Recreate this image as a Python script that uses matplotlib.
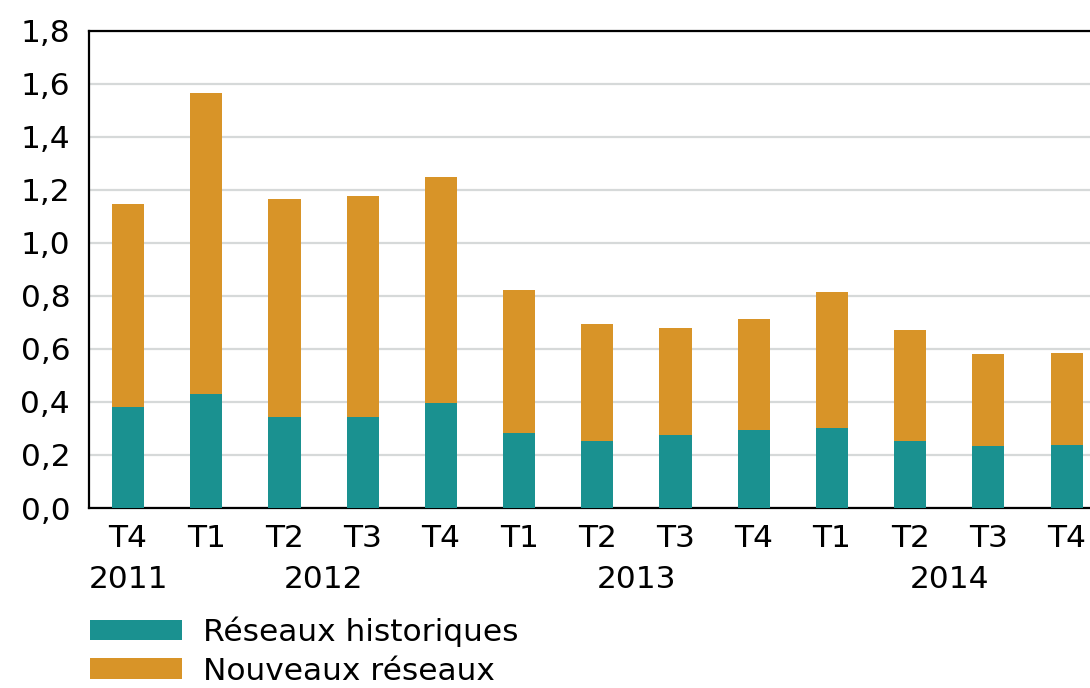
import matplotlib.pyplot as plt
import numpy as np

plt.rcParams['font.family'] = ['DejaVu Sans']

# data
trimestres = ["T4", "T1", "T2", "T3", "T4", "T1", "T2", "T3", "T4", "T1", "T2", "T3", "T4"]
annees = ["2011", "2012", "2013", "2014"]
annee_pos = [0, 2.5, 6.5, 10.5]   # centre of each year's quarters
historiques = [0.380, 0.430, 0.345, 0.342, 0.397, 0.282, 0.254, 0.277, 0.293, 0.301, 0.254, 0.233, 0.238]
nouveaux = [0.766, 1.135, 0.820, 0.834, 0.850, 0.542, 0.439, 0.400, 0.418, 0.512, 0.419, 0.346, 0.347]

teal = "#1a9190"
orange = "#d89428"
fs = 22.5

fig = plt.figure(figsize=(10.9, 6.88), dpi=100)
ax = fig.add_axes([89 / 1090, 180 / 688, 1 - 89 / 1090, (508 - 30.7) / 688])

x = np.arange(len(trimestres))
w = 0.41
b1 = ax.bar(x, historiques, w, color=teal, label="Réseaux historiques", zorder=3)
b2 = ax.bar(x, nouveaux, w, bottom=historiques, color=orange, label="Nouveaux réseaux", zorder=3)

ax.set_ylim(0, 1.8)
ax.set_xlim(-0.5, 12.3)
yt = np.arange(0, 1.81, 0.2)
ax.set_yticks(yt)
ax.set_yticklabels([f"{v:.1f}".replace(".", ",") for v in yt], fontsize=fs)
ax.set_xticks(x)
ax.set_xticklabels(trimestres, fontsize=fs)
ax.tick_params(length=0)
ax.tick_params(axis='x', pad=11.5)
ax.tick_params(axis='y', pad=13.5)

ax.grid(axis='y', color="#d6d9d9", lw=1.6, zorder=0)
ax.set_axisbelow(True)
for s in ["left", "bottom", "top"]:
    ax.spines[s].set_color("black")
    ax.spines[s].set_linewidth(1.6)
ax.spines["right"].set_visible(False)

for lab, p in zip(annees, annee_pos):
    ax.text(p, -0.268, lab, ha='center', va='center', fontsize=fs)

fig.legend(handles=[b1, b2], loc='upper left', bbox_to_anchor=(77 / 1090, 1 - 604 / 688),
           frameon=False, fontsize=fs, handlelength=2.95, handleheight=0.65,
           handletextpad=0.67, labelspacing=0.31, borderaxespad=0)

fig.savefig("out.png", dpi=100)
